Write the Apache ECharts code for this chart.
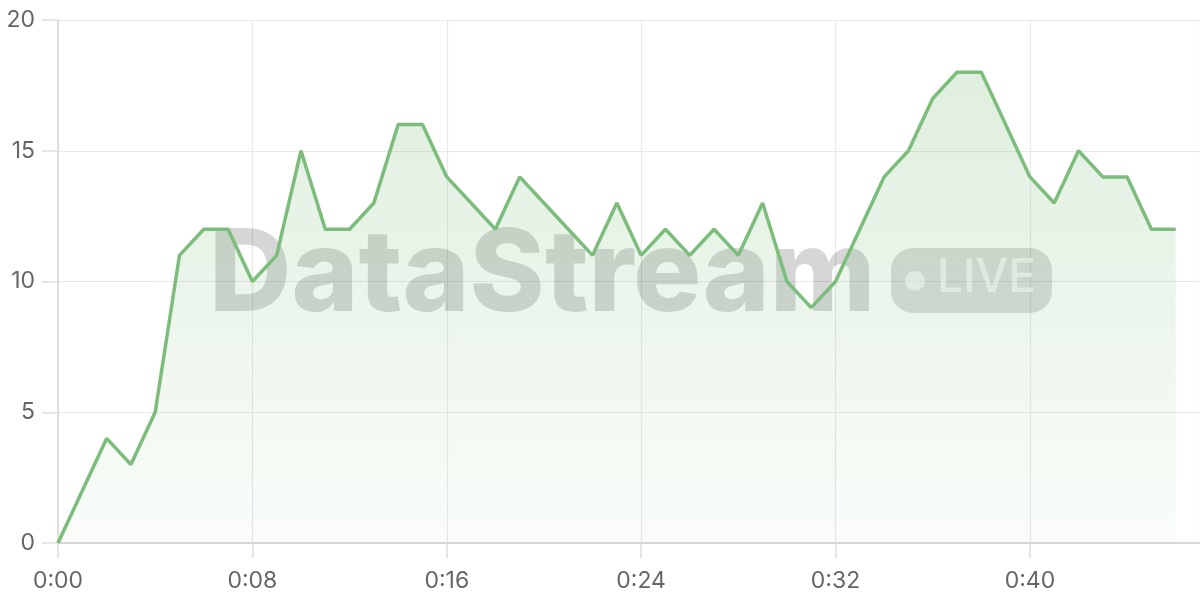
<!DOCTYPE html>
<html>
<head>
<meta charset="utf-8">
<script src="https://cdn.jsdelivr.net/npm/echarts@6/dist/echarts.min.js"></script>
<style>
  html, body { margin: 0; padding: 0; background: #fff; }
  #chart { width: 1200px; height: 600px; }
</style>
</head>
<body>
<div id="chart"></div>
<script>
// seconds since start, one point per second
var seconds = [0, 1, 2, 3, 4, 5, 6, 7, 8, 9, 10, 11, 12, 13, 14, 15, 16, 17, 18, 19, 20, 21, 22, 23,
    24, 25, 26, 27, 28, 29, 30, 31, 32, 33, 34, 35, 36, 37, 38, 39, 40, 41, 42, 43, 44, 45, 46];
var values = [0, 2, 4, 3, 5, 11, 12, 12, 10, 11, 15, 12, 12, 13, 16, 16, 14, 13, 12, 14, 13, 12, 11, 13,
    11, 12, 11, 12, 11, 13, 10, 9, 10, 12, 14, 15, 17, 18, 18, 16, 14, 13, 15, 14, 14, 12, 12];

var chart = echarts.init(document.getElementById('chart'));

function fmtTime(v) {
    var s = v % 60;
    return Math.floor(v / 60) + ':' + (s < 10 ? '0' + s : s);
}

var seriesData = seconds.map(function (s, i) { return [s, values[i]]; });

var option = {
    backgroundColor: '#ffffff',
    animation: false,
    textStyle: { fontFamily: 'Inter' },
    grid: { left: 58, right: 0, top: 20, bottom: 57 },
    // watermark
    graphic: [
        {
            type: 'text', left: 209, top: 220, z: 1, silent: true,
            style: {
                text: 'DataStream', fontFamily: 'Inter', fontWeight: 800, fontSize: 114,
                fill: 'rgba(0,0,0,0.16)'
            }
        },
        {
            type: 'rect', left: 891, top: 248, z: 1, silent: true,
            shape: { width: 161, height: 65, r: 22 },
            style: { fill: 'rgba(0,0,0,0.14)' }
        },
        {
            type: 'circle', left: 905, top: 271, z: 2, silent: true,
            shape: { r: 10 },
            style: { fill: 'rgba(255,255,255,0.65)' }
        },
        {
            type: 'text', left: 937, top: 255, z: 2, silent: true,
            style: {
                text: 'LIVE', fontFamily: 'Inter', fontWeight: 500, fontSize: 46,
                fill: 'rgba(255,255,255,0.65)'
            }
        }
    ],
    xAxis: {
        type: 'value',
        min: 0,
        max: 47,
        interval: 8,
        axisLine: { show: true, onZero: false, lineStyle: { color: '#cfcfcf', width: 1.5 } },
        axisTick: { show: true, inside: false, length: 15, lineStyle: { color: '#e0e0e0', width: 1.5 } },
        splitLine: { show: true, lineStyle: { color: '#e8e8e8', width: 1.2 } },
        axisLabel: {
            formatter: fmtTime, color: '#666', fontSize: 23, margin: 27,
            showMaxLabel: false
        }
    },
    yAxis: {
        type: 'value',
        min: 0,
        max: 20,
        interval: 5,
        axisLine: { show: true, onZero: false, lineStyle: { color: '#d8d8d8', width: 1.5 } },
        axisTick: { show: true, inside: false, length: 16, lineStyle: { color: '#e0e0e0', width: 1.5 } },
        splitLine: { show: true, lineStyle: { color: '#e8e8e8', width: 1.2 } },
        axisLabel: { color: '#666', fontSize: 23, margin: 23 }
    },
    series: [
        {
            type: 'line',
            data: seriesData,
            showSymbol: false,
            z: 3,
            lineStyle: { color: '#7cbd7c', width: 3.5 },
            itemStyle: { color: '#7cbd7c' },
            areaStyle: {
                color: new echarts.graphic.LinearGradient(0, 0, 0, 1, [
                    { offset: 0, color: 'rgba(124,189,124,0.35)' },
                    { offset: 1, color: 'rgba(124,189,124,0.06)' }
                ])
            }
        }
    ]
};

chart.setOption(option);
</script>
</body>
</html>
